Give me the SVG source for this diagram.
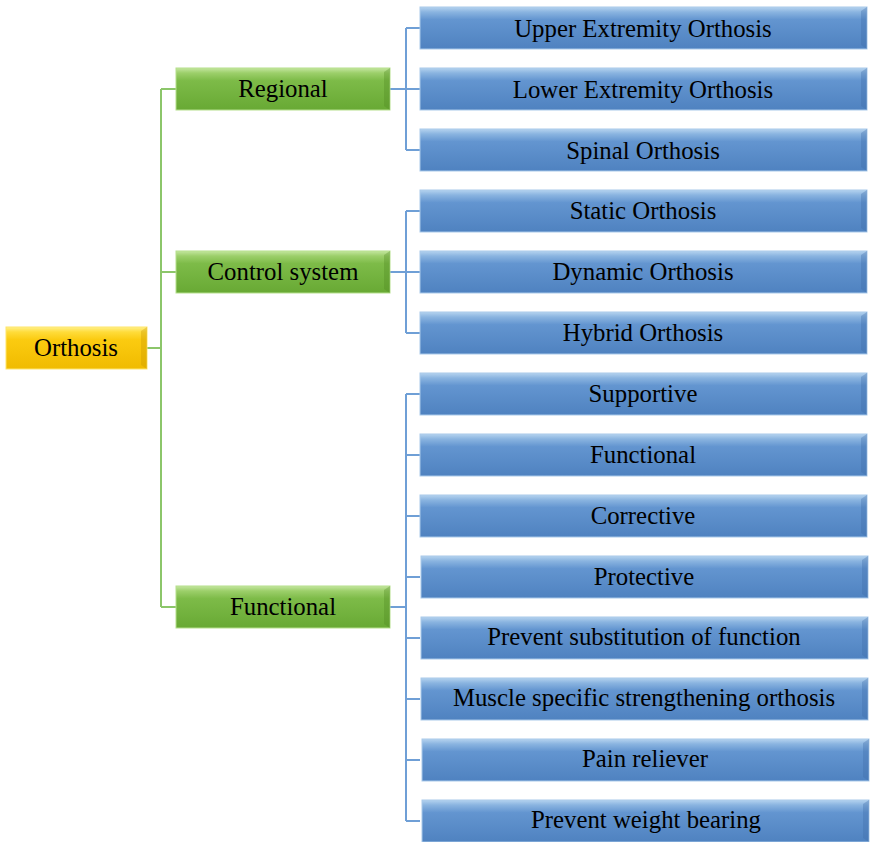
<svg xmlns="http://www.w3.org/2000/svg" width="870" height="842" viewBox="0 0 870 842">
<defs>
<linearGradient id="gBlue" x1="0" y1="0" x2="0" y2="1">
<stop offset="0" stop-color="#b5d3ef"/>
<stop offset="0.12" stop-color="#8ab4e0"/>
<stop offset="0.3" stop-color="#6395d0"/>
<stop offset="1" stop-color="#4f82c0"/>
</linearGradient>
<linearGradient id="gGreen" x1="0" y1="0" x2="0" y2="1">
<stop offset="0" stop-color="#c4e6a0"/>
<stop offset="0.12" stop-color="#9ccf6a"/>
<stop offset="0.3" stop-color="#7dbb48"/>
<stop offset="1" stop-color="#68a934"/>
</linearGradient>
<linearGradient id="gYellow" x1="0" y1="0" x2="0" y2="1">
<stop offset="0" stop-color="#fff08a"/>
<stop offset="0.12" stop-color="#ffdc3a"/>
<stop offset="0.3" stop-color="#fbcb10"/>
<stop offset="1" stop-color="#f0bb00"/>
</linearGradient>
</defs>
<style>
.blue{fill:url(#gBlue);stroke:#a9c9ea;stroke-width:1}
.green{fill:url(#gGreen);stroke:#b5df8c;stroke-width:1}
.yellow{fill:url(#gYellow);stroke:#ffe56a;stroke-width:1}
.shB{fill:#3f6ea8;opacity:0.35}
.shG{fill:#4f8a22;opacity:0.35}
.shY{fill:#c99700;opacity:0.35}
text{font-family:"Liberation Serif","Times New Roman",serif;font-size:24.8px;fill:#000;text-anchor:middle}
.cg{fill:none;stroke:#8cc66a;stroke-width:2}
.cb{fill:none;stroke:#6f9fd6;stroke-width:2}
</style>
<g id="connectors">
<path class="cg" d="M147 348H161M161 89V607M161 89H176M161 272H176M161 607H176"/>
<path class="cb" d="M390 89H406M406 28V150M406 28H420M406 89H420M406 150H420"/>
<path class="cb" d="M390 272H406M406 211V333M406 211H420M406 272H420M406 333H420"/>
<path class="cb" d="M390 607H406M406 394V821M406 394H420M406 455H420M406 516H420M406 577H420M406 638H420M406 699H420M406 760H420M406 821H420"/>
</g>
<g id="orthosis">
<rect class="yellow" x="6" y="327" width="141" height="42"/>
<polygon class="shY" points="141,331 147,327 147,369 141,365"/>
<text x="76" y="356">Orthosis</text>
</g>
<g id="regional">
<rect class="green" x="176" y="68" width="214" height="42"/>
<polygon class="shG" points="384,72 390,68 390,110 384,106"/>
<text x="283" y="97">Regional</text>
</g>
<g id="control-system">
<rect class="green" x="176" y="251" width="214" height="42"/>
<polygon class="shG" points="384,255 390,251 390,293 384,289"/>
<text x="283" y="280">Control system</text>
</g>
<g id="functional-group">
<rect class="green" x="176" y="586" width="214" height="42"/>
<polygon class="shG" points="384,590 390,586 390,628 384,624"/>
<text x="283" y="615">Functional</text>
</g>
<g id="upper">
<rect class="blue" x="420" y="7" width="447" height="42"/>
<polygon class="shB" points="861,11 867,7 867,49 861,45"/>
<text x="643" y="37">Upper Extremity Orthosis</text>
</g>
<g id="lower">
<rect class="blue" x="420" y="68" width="447" height="42"/>
<polygon class="shB" points="861,72 867,68 867,110 861,106"/>
<text x="643" y="98">Lower Extremity Orthosis</text>
</g>
<g id="spinal">
<rect class="blue" x="420" y="129" width="447" height="42"/>
<polygon class="shB" points="861,133 867,129 867,171 861,167"/>
<text x="643" y="159">Spinal Orthosis</text>
</g>
<g id="static">
<rect class="blue" x="420" y="190" width="447" height="42"/>
<polygon class="shB" points="861,194 867,190 867,232 861,228"/>
<text x="643" y="219">Static Orthosis</text>
</g>
<g id="dynamic">
<rect class="blue" x="420" y="251" width="447" height="42"/>
<polygon class="shB" points="861,255 867,251 867,293 861,289"/>
<text x="643" y="280">Dynamic Orthosis</text>
</g>
<g id="hybrid">
<rect class="blue" x="420" y="312" width="447" height="42"/>
<polygon class="shB" points="861,316 867,312 867,354 861,350"/>
<text x="643" y="341">Hybrid Orthosis</text>
</g>
<g id="supportive">
<rect class="blue" x="420" y="373" width="447" height="42"/>
<polygon class="shB" points="861,377 867,373 867,415 861,411"/>
<text x="643" y="402">Supportive</text>
</g>
<g id="functional">
<rect class="blue" x="420" y="434" width="447" height="42"/>
<polygon class="shB" points="861,438 867,434 867,476 861,472"/>
<text x="643" y="463">Functional</text>
</g>
<g id="corrective">
<rect class="blue" x="420" y="495" width="447" height="42"/>
<polygon class="shB" points="861,499 867,495 867,537 861,533"/>
<text x="643" y="524">Corrective</text>
</g>
<g id="protective">
<rect class="blue" x="421" y="556" width="447" height="42"/>
<polygon class="shB" points="862,560 868,556 868,598 862,594"/>
<text x="644" y="585">Protective</text>
</g>
<g id="prevent-substitution">
<rect class="blue" x="421" y="617" width="447" height="42"/>
<polygon class="shB" points="862,621 868,617 868,659 862,655"/>
<text x="644" y="645">Prevent substitution of function</text>
</g>
<g id="muscle">
<rect class="blue" x="421" y="678" width="447" height="42"/>
<polygon class="shB" points="862,682 868,678 868,720 862,716"/>
<text x="644" y="706">Muscle specific strengthening orthosis</text>
</g>
<g id="pain">
<rect class="blue" x="422" y="739" width="447" height="42"/>
<polygon class="shB" points="863,743 869,739 869,781 863,777"/>
<text x="645" y="767">Pain reliever</text>
</g>
<g id="prevent-weight">
<rect class="blue" x="422" y="800" width="447" height="42"/>
<polygon class="shB" points="863,804 869,800 869,842 863,838"/>
<text x="646" y="828">Prevent weight bearing</text>
</g>
</svg>
